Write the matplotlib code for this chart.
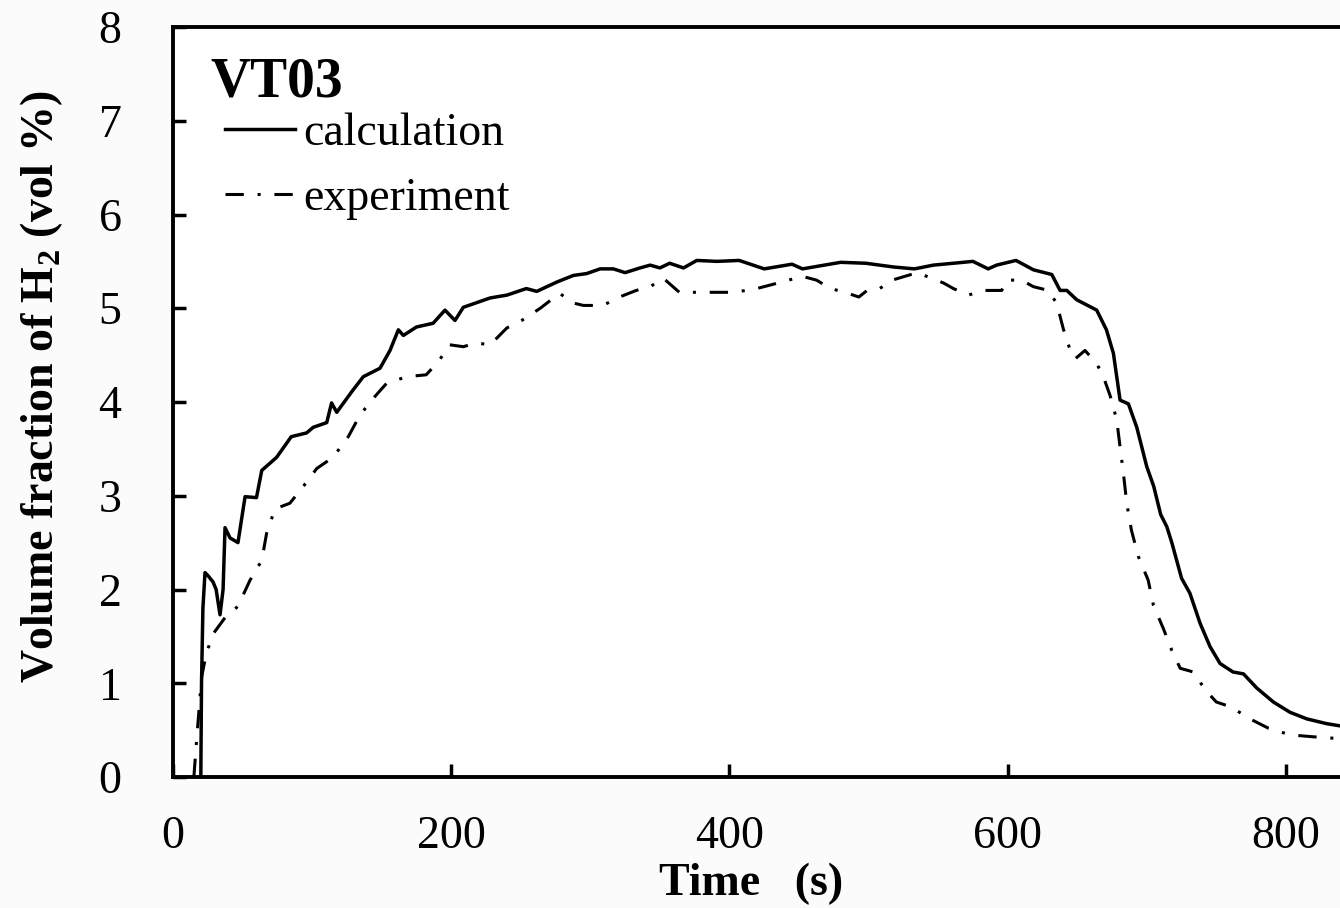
import matplotlib
matplotlib.use("Agg")
import matplotlib.pyplot as plt

# calculation curve (time s, vol %)
t_calc = [19, 20, 20.5, 21.5, 23, 25, 28.8, 31, 33.8, 36,
          37.4, 41, 46.7, 51.8, 60, 63.8, 74.5, 85, 96, 100.8,
          110.5, 114, 117.7, 128.5, 136.8, 148.8, 156, 162, 165.6, 175,
          187, 195.5, 202.7, 208.7, 228, 240, 254, 261.5, 276, 287.8,
          297.4, 307, 316.5, 325, 335.7, 343, 350, 357, 367, 376.5,
          391, 407, 425, 445, 452.5, 480, 498, 518, 533, 546.6,
          561, 575, 586, 592, 606, 618.5, 631.7, 637.7, 642.5, 649.7,
          664, 671, 676, 680.8, 686.8, 692.8, 700, 705, 710, 714.4,
          718, 725, 731, 738.3, 745.5, 752.7, 762, 769.5, 779, 791,
          803, 815, 829, 845]
v_calc = [0, 0, 1.0, 1.8, 2.18, 2.15, 2.08, 2.0, 1.73, 2.0,
          2.66, 2.55, 2.5, 2.99, 2.98, 3.27, 3.41, 3.63, 3.67, 3.73,
          3.78, 3.99, 3.89, 4.11, 4.27, 4.36, 4.55, 4.77, 4.71, 4.8,
          4.84, 4.98, 4.87, 5.01, 5.11, 5.14, 5.21, 5.18, 5.28, 5.35,
          5.37, 5.42, 5.42, 5.38, 5.43, 5.46, 5.43, 5.48, 5.43, 5.51,
          5.5, 5.51, 5.42, 5.47, 5.42, 5.49, 5.48, 5.44, 5.42, 5.46,
          5.48, 5.5, 5.42, 5.46, 5.51, 5.41, 5.36, 5.19, 5.19, 5.09,
          4.98, 4.77, 4.52, 4.02, 3.98, 3.73, 3.31, 3.1, 2.8, 2.67,
          2.5, 2.12, 1.96, 1.64, 1.39, 1.21, 1.12, 1.1, 0.95, 0.8,
          0.69, 0.62, 0.57, 0.53]

# experiment curve
t_exp = [15, 17, 20.6, 24, 29, 37.4, 46.6, 55.4, 63.8, 67.3,
         73.3, 84, 93.7, 103.3, 115, 126, 134.4, 144, 153.6, 168,
         182, 190.7, 199, 208.7, 218, 228, 240, 250.7, 264, 278,
         286.6, 295, 309, 321, 333, 343, 352.5, 364, 382, 402,
         417, 430, 452.5, 462.6, 472.7, 483, 493, 499, 508, 517,
         535, 553.8, 561, 571.7, 582.5, 595.7, 599.3, 610, 618.5, 629.3,
         635.3, 640, 645, 648.5, 655.6, 664, 668.8, 673.6, 678.4, 680.8,
         683.2, 685.6, 689, 694, 701, 704.8, 712, 718, 724, 733.5,
         742, 750, 760, 775.5, 787.5, 803, 818.6, 837.7, 845]
v_exp = [0, 0.4, 1.07, 1.32, 1.53, 1.7, 1.82, 2.1, 2.31, 2.6,
         2.86, 2.92, 3.1, 3.29, 3.41, 3.63, 3.86, 4.04, 4.2, 4.27,
         4.29, 4.43, 4.61, 4.59, 4.63, 4.61, 4.79, 4.87, 5.0, 5.16,
         5.06, 5.03, 5.03, 5.12, 5.19, 5.23, 5.32, 5.17, 5.17, 5.17,
         5.2, 5.25, 5.34, 5.3, 5.21, 5.17, 5.12, 5.19, 5.21, 5.3,
         5.38, 5.27, 5.21, 5.14, 5.19, 5.19, 5.3, 5.3, 5.23, 5.19,
         5.05, 4.78, 4.55, 4.46, 4.55, 4.41, 4.27, 4.07, 3.81, 3.52,
         3.24, 2.92, 2.63, 2.35, 2.1, 1.83, 1.58, 1.35, 1.16, 1.12,
         0.93, 0.8, 0.75, 0.61, 0.52, 0.45, 0.43, 0.41, 0.4]

x_ticks = [0, 200, 400, 600, 800]
y_ticks = [0, 1, 2, 3, 4, 5, 6, 7, 8]

plt.rcParams["font.family"] = ["Liberation Serif", "DejaVu Serif"]
plt.rcParams["mathtext.fontset"] = "custom"
plt.rcParams["mathtext.rm"] = "Liberation Serif"
plt.rcParams["mathtext.bf"] = "Liberation Serif:bold"

fig = plt.figure(figsize=(13.4, 9.08), dpi=100, facecolor="#fbfbfb")
# axes run past the right edge, the picture is cropped there
ax = fig.add_axes([173 / 1340, 131 / 908, 1252 / 1340, 750 / 908])
ax.set_facecolor("white")

ax.plot(t_calc, v_calc, color="black", lw=2.5, label="calculation")
ax.plot(t_exp, v_exp, color="black", lw=2.2, dashes=(6, 4.5, 1, 4.5), label="experiment")

ax.set_xticks(x_ticks)
ax.set_yticks(y_ticks)
ax.set_xlim(0, 900)
ax.set_ylim(0, 8)

for s in ax.spines.values():
    s.set_linewidth(2.8)
ax.tick_params(direction="in", length=9.5, width=2.5, labelsize=33)
ax.tick_params(axis="x", pad=27.5)
ax.tick_params(axis="y", pad=37)

ax.set_xlabel("Time   (s)", fontsize=33, fontweight="bold")
ax.xaxis.set_label_coords(0.4617, -0.1147)
ax.set_ylabel(r"Volume fraction of H$_\mathbf{2}$ (vol %)", fontsize=33, fontweight="bold")
ax.yaxis.set_label_coords(-0.0864, 0.52)

ax.text(0.0296, 0.907, "VT03", transform=ax.transAxes, fontsize=40,
        fontweight="bold", va="baseline", ha="left")

leg = ax.legend(loc="upper left", bbox_to_anchor=(0.0415, 0.886), frameon=False,
                fontsize=33, handlelength=1.53, handletextpad=0.17,
                labelspacing=0.49, borderpad=0, borderaxespad=0)

fig.savefig("out.png", dpi=100, facecolor=fig.get_facecolor())
